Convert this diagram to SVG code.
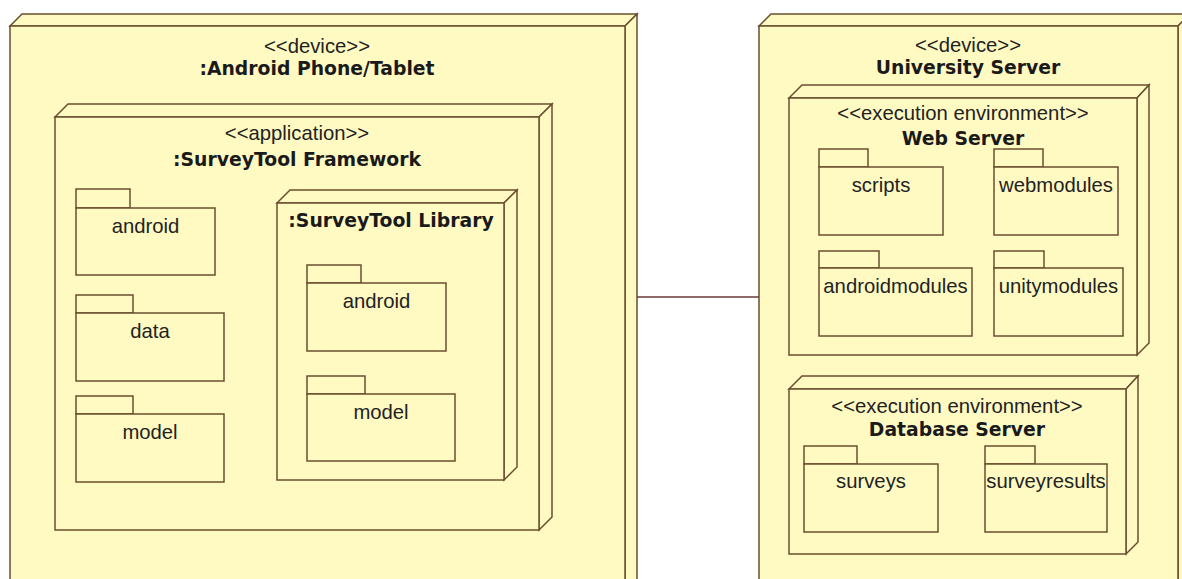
<svg xmlns="http://www.w3.org/2000/svg" width="1182" height="579" viewBox="0 0 1182 579">
  <style>
    .face { fill: #FFFAC2; stroke: #6B4E2E; stroke-width: 1.5; stroke-linejoin: miter; }
    .pkg { fill: #FFFAC2; stroke: #6B4E2E; stroke-width: 1.5; }
    .conn { fill: none; stroke: #6B3A3A; stroke-width: 1.5; }
    .st { font-family: "Liberation Sans", Arial, sans-serif; font-size: 20.3px; fill: #222; text-anchor: middle; }
    .nm { font-family: "DejaVu Sans", "Liberation Sans", sans-serif; font-weight: bold; font-size: 18.8px; fill: #1a1a1a; text-anchor: middle; }
  </style>
  <rect width="1182" height="579" fill="#ffffff"/>

  <!-- Device: Android Phone/Tablet -->
  <g id="android-device">
    <polygon class="face" points="10,26 22,14 637,14 625,26"/>
    <polygon class="face" points="625,26 637,14 637,614 625,626"/>
    <rect class="face" x="10" y="26" width="615" height="600"/>
    <text class="st" x="317" y="53">&lt;&lt;device&gt;&gt;</text>
    <text class="nm" x="317" y="75">:Android Phone/Tablet</text>
  </g>

  <!-- Application: SurveyTool Framework -->
  <g id="surveytool-framework">
    <polygon class="face" points="55,117 68,104 552,104 539,117"/>
    <polygon class="face" points="539,117 552,104 552,517 539,530"/>
    <rect class="face" x="55" y="117" width="484" height="413"/>
    <text class="st" x="297" y="140">&lt;&lt;application&gt;&gt;</text>
    <text class="nm" x="297" y="166">:SurveyTool Framework</text>
  </g>

  <g id="pkg-android">
    <rect class="pkg" x="76" y="189" width="54" height="19"/>
    <rect class="pkg" x="76" y="208" width="139" height="67"/>
    <text class="st" x="145.5" y="233">android</text>
  </g>
  <g id="pkg-data">
    <rect class="pkg" x="76" y="295" width="57" height="18"/>
    <rect class="pkg" x="76" y="313" width="148" height="68"/>
    <text class="st" x="150" y="338">data</text>
  </g>
  <g id="pkg-model">
    <rect class="pkg" x="76" y="396" width="57" height="18"/>
    <rect class="pkg" x="76" y="414" width="148" height="68"/>
    <text class="st" x="150" y="439">model</text>
  </g>

  <!-- Library node -->
  <g id="surveytool-library">
    <polygon class="face" points="277,203 290,190 517,190 504,203"/>
    <polygon class="face" points="504,203 517,190 517,467 504,480"/>
    <rect class="face" x="277" y="203" width="227" height="277"/>
    <text class="nm" x="391" y="227">:SurveyTool Library</text>
  </g>
  <g id="lib-pkg-android">
    <rect class="pkg" x="307" y="265" width="54" height="18"/>
    <rect class="pkg" x="307" y="283" width="139" height="68"/>
    <text class="st" x="376.5" y="308">android</text>
  </g>
  <g id="lib-pkg-model">
    <rect class="pkg" x="307" y="376" width="58" height="18"/>
    <rect class="pkg" x="307" y="394" width="148" height="67"/>
    <text class="st" x="381" y="419">model</text>
  </g>

  <!-- Device: University Server -->
  <g id="university-server">
    <polygon class="face" points="759,26 771,14 1190,14 1178,26"/>
    <polygon class="face" points="1178,26 1190,14 1190,614 1178,626"/>
    <rect class="face" x="759" y="26" width="419" height="600"/>
    <text class="st" x="968" y="52">&lt;&lt;device&gt;&gt;</text>
    <text class="nm" x="968" y="74">University Server</text>
  </g>

  <!-- Execution environment: Web Server -->
  <g id="web-server">
    <polygon class="face" points="789,98 802,85 1149,85 1137,98"/>
    <polygon class="face" points="1137,98 1149,85 1149,343 1137,355"/>
    <rect class="face" x="789" y="98" width="348" height="257"/>
    <text class="st" x="963" y="120">&lt;&lt;execution environment&gt;&gt;</text>
    <text class="nm" x="963" y="145">Web Server</text>
  </g>
  <g id="pkg-scripts">
    <rect class="pkg" x="819" y="149" width="49" height="18"/>
    <rect class="pkg" x="819" y="167" width="124" height="68"/>
    <text class="st" x="881" y="192">scripts</text>
  </g>
  <g id="pkg-webmodules">
    <rect class="pkg" x="994" y="149" width="49" height="18"/>
    <rect class="pkg" x="994" y="167" width="124" height="68"/>
    <text class="st" x="1056" y="192">webmodules</text>
  </g>
  <g id="pkg-androidmodules">
    <rect class="pkg" x="819" y="251" width="60" height="17"/>
    <rect class="pkg" x="819" y="268" width="153" height="68"/>
    <text class="st" x="895.5" y="293">androidmodules</text>
  </g>
  <g id="pkg-unitymodules">
    <rect class="pkg" x="994" y="251" width="50" height="17"/>
    <rect class="pkg" x="994" y="268" width="129" height="68"/>
    <text class="st" x="1058.5" y="293">unitymodules</text>
  </g>

  <!-- Execution environment: Database Server -->
  <g id="database-server">
    <polygon class="face" points="789,389 802,376 1138,376 1126,389"/>
    <polygon class="face" points="1126,389 1138,376 1138,542 1126,554"/>
    <rect class="face" x="789" y="389" width="337" height="165"/>
    <text class="st" x="957" y="413">&lt;&lt;execution environment&gt;&gt;</text>
    <text class="nm" x="957" y="436">Database Server</text>
  </g>
  <g id="pkg-surveys">
    <rect class="pkg" x="804" y="446" width="53" height="18"/>
    <rect class="pkg" x="804" y="464" width="134" height="68"/>
    <text class="st" x="871" y="488">surveys</text>
  </g>
  <g id="pkg-surveyresults">
    <rect class="pkg" x="985" y="446" width="50" height="18"/>
    <rect class="pkg" x="985" y="464" width="122" height="68"/>
    <text class="st" x="1046" y="488">surveyresults</text>
  </g>

  <!-- Communication path between the devices -->
  <g id="connectors">
    <line class="conn" x1="637" y1="297" x2="759" y2="297"/>
  </g>
</svg>
